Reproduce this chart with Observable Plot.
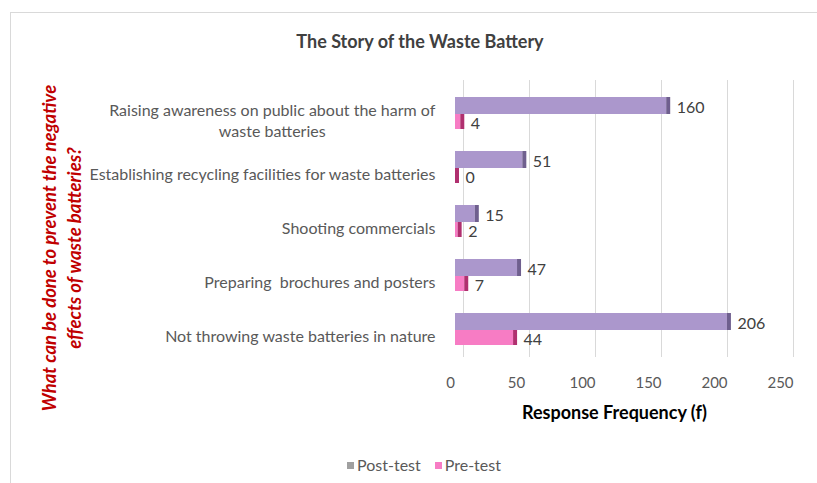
<!DOCTYPE html>
<html>
<head>
<meta charset="utf-8">
<script src="https://cdn.jsdelivr.net/npm/d3@7"></script>
<script src="https://cdn.jsdelivr.net/npm/@observablehq/plot@0.6"></script>
<style>
  html, body { margin: 0; padding: 0; background: #fff; }
  #wrap { position: relative; width: 817px; height: 483px; overflow: hidden; font-family: Lato, "Open Sans", sans-serif; }
  #border { position: absolute; left: 10px; top: 12px; width: 820px; height: 490px; border: 1px solid #d9d9d9; box-sizing: border-box; }
  #title { position: absolute; left: 0; width: 840px; top: 30px; text-align: center; font-size: 18px; font-weight: bold; color: #404040; }
  #chart { position: absolute; left: 0; top: 0; }
  #legend { position: absolute; top: 455px; left: 0; width: 848px; text-align: center; font-size: 16px; color: #595959; }
  #legend span.sw { display: inline-block; width: 7px; height: 7px; margin-right: 3px; vertical-align: 2px; }
  #legend span.item { margin: 0 7px; }
  svg text { white-space: pre; }
</style>
</head>
<body>
<div id="wrap">
  <div id="border"></div>
  <div id="title"></div>
  <div id="chart"></div>
  <div id="legend"></div>
</div>
<script>
const chartTitle = "The Story of the Waste Battery";
const categories = [
  "Raising awareness on public about the harm of\nwaste batteries",
  "Establishing recycling facilities for waste batteries",
  "Shooting commercials",
  "Preparing  brochures and posters",
  "Not throwing waste batteries in nature"
];
const postTest = [160, 51, 15, 47, 206];
const preTest = [4, 0, 2, 7, 44];
const seriesNames = ["Post-test", "Pre-test"];
const xTicks = [0, 50, 100, 150, 200, 250];
const xLabel = "Response Frequency (f)";
const yLabel = "What can be done to prevent the negative\neffects of waste batteries?";

const postColor = "#ab97cc";
const postSide = "#6f5f8e";
const preColor = "#f77cc4";
const preSide = "#b0306f";

const post = categories.map((c, i) => ({category: c, value: postTest[i]}));
const pre = categories.map((c, i) => ({category: c, value: preTest[i]}));

document.getElementById("title").textContent = chartTitle;

const plot = Plot.plot({
  width: 817,
  height: 483,
  marginLeft: 455,
  marginRight: 32,
  marginTop: 86,
  marginBottom: 126,
  style: {fontFamily: "Lato, 'Open Sans', sans-serif", background: "transparent"},
  x: {domain: [0, 250], ticks: xTicks, label: null},
  y: {domain: categories, padding: 0, label: null},
  marks: [
    Plot.ruleX(xTicks, {x: d => d, dx: 8, insetTop: -6, stroke: "#d9d9d9", strokeWidth: 1}),
    Plot.axisX({ticks: xTicks, tickSize: 0, tickPadding: 20, dx: -5, fontSize: 15, color: "#595959", label: null}),
    Plot.axisY({tickSize: 0, tickPadding: 20, dy: 5, fontSize: 16, color: "#595959", lineHeight: 1.35, label: null}),
    // post-test bars (upper half of each band)
    Plot.barX(post, {x: "value", y: "category", insetTop: 10, insetBottom: 27, fill: postColor}),
    Plot.barX(post, {x1: "value", x2: "value", y: "category", insetTop: 10, insetBottom: 27, insetRight: -4, fill: postSide}),
    // pre-test bars (lower half of each band)
    Plot.barX(pre, {x: "value", y: "category", insetTop: 27, insetBottom: 12, fill: preColor}),
    Plot.barX(pre, {x1: "value", x2: "value", y: "category", insetTop: 27, insetBottom: 12, insetRight: -4, fill: preSide}),
    // value labels
    Plot.text(post, {x: "value", y: "category", text: d => String(d.value), dx: 10, dy: -7, textAnchor: "start", fontSize: 16, fill: "#404040"}),
    Plot.text(pre, {x: "value", y: "category", text: d => String(d.value), dx: 10, dy: 9, textAnchor: "start", fontSize: 16, fill: "#404040"}),
    // x axis title
    Plot.text([xLabel], {frameAnchor: "bottom", lineAnchor: "middle", dx: -6, dy: 56, fontSize: 18, fontWeight: "bold", fill: "#000"}),
    // y axis title (rotated, two lines)
    Plot.text([yLabel], {frameAnchor: "left", textAnchor: "middle", lineAnchor: "middle", dx: -395, dy: 26, rotate: -90, fontSize: 18.5, fontWeight: "bold", fontStyle: "italic", fill: "#c00000", lineHeight: 1.35})
  ]
});
document.getElementById("chart").appendChild(plot);

// center multi-line category labels (as the original does)
plot.querySelectorAll("g[aria-label='y-axis tick label'] text").forEach(t => {
  const spans = t.querySelectorAll("tspan");
  if (spans.length > 1) {
    const w = t.getBBox().width;
    const nx = (+t.getAttribute("x") || 0) - w / 2;
    t.setAttribute("text-anchor", "middle");
    t.setAttribute("x", String(nx));
    spans.forEach(s => s.setAttribute("x", String(nx)));
  }
});

const legendColors = ["#a0a0a0", preColor];
document.getElementById("legend").innerHTML = seriesNames.map((n, i) =>
  `<span class="item"><span class="sw" style="background:${legendColors[i]}"></span>${n}</span>`).join("");
</script>
</body>
</html>
